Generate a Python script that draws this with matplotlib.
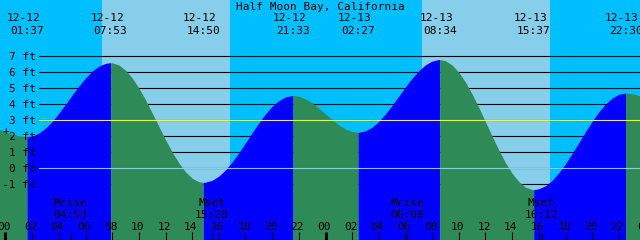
import matplotlib
matplotlib.use('Agg')
import matplotlib.pyplot as plt
import numpy as np

# tide curve every half hour: hours after 12-12 00:00, feet
curve_hours = [-0.5, 0, 0.5, 1, 1.5, 2, 2.5, 3, 3.5, 4, 4.5, 5, 5.5, 6, 6.5, 7,
               7.5, 8, 8.5, 9, 9.5, 10, 10.5, 11, 11.5, 12, 12.5, 13, 13.5, 14,
               14.5, 15, 15.5, 16, 16.5, 17, 17.5, 18, 18.5, 19, 19.5, 20, 20.5,
               21, 21.5, 22, 22.5, 23, 23.5, 24, 24.5, 25, 25.5, 26, 26.5, 27,
               27.5, 28, 28.5, 29, 29.5, 30, 30.5, 31, 31.5, 32, 32.5, 33, 33.5,
               34, 34.5, 35, 35.5, 36, 36.5, 37, 37.5, 38, 38.5, 39, 39.5, 40,
               40.5, 41, 41.5, 42, 42.5, 43, 43.5, 44, 44.5, 45, 45.5, 46, 47,
               47.5, 47.7]
curve_feet = [2.42, 2.27, 2.13, 2.03, 1.99, 2.02, 2.20, 2.51, 2.93, 3.44, 4.00,
              4.58, 5.14, 5.64, 6.07, 6.38, 6.56, 6.59, 6.46, 6.13, 5.65, 5.02,
              4.28, 3.46, 2.62, 1.79, 1.01, 0.34, -0.22, -0.62, -0.84, -0.87,
              -0.75, -0.49, -0.10, 0.40, 0.97, 1.59, 2.23, 2.84, 3.40, 3.87,
              4.23, 4.46, 4.55, 4.50, 4.34, 4.09, 3.76, 3.40, 3.04, 2.71, 2.46,
              2.30, 2.25, 2.34, 2.57, 2.93, 3.40, 3.94, 4.51, 5.09, 5.63, 6.10,
              6.47, 6.70, 6.80, 6.72, 6.45, 6.00, 5.38, 4.63, 3.80, 2.90, 2.00,
              1.14, 0.35, -0.32, -0.83, -1.18, -1.32, -1.28, -1.09, -0.75, -0.28,
              0.29, 0.93, 1.60, 2.29, 2.94, 3.53, 4.02, 4.39, 4.62, 4.66, 4.55,
              4.48]

# highs and lows
event_dates = ['12-12', '12-12', '12-12', '12-12', '12-13', '12-13', '12-13', '12-13']
event_times = ['01:37', '07:53', '14:50', '21:33', '02:27', '08:34', '15:37', '22:30']
event_feet = [1.98, 6.60, -0.88, 4.55, 2.25, 6.80, -1.33, 4.70]

# moon rise / set
moon_dates = ['12-12', '12-12', '12-13', '12-13']
moon_kinds = ['Mrise', 'Mset', 'Mrise', 'Mset']
moon_times = ['04:53', '15:28', '06:08', '16:12']

# daylight
sun_dates = ['12-12', '12-13']
sunrise = ['07:14', '07:14']
sunset = ['16:50', '16:50']

depth_levels = [-1, 0, 1, 2, 3, 4, 5, 6, 7]
hour_labels = ['00', '02', '04', '06', '08', '10', '12', '14', '16', '18', '20', '22']
title = 'Half Moon Bay, California'

PX_H = 320 / 24.0   # pixels per hour
PX_FT = 16.0        # pixels per foot
X0 = -5.5 / PX_H
X1 = (640 - 5.5) / PX_H
Y1 = 168.3 / PX_FT
Y0 = Y1 - 240 / PX_FT
FONT = dict(family='DejaVu Sans Mono', size=8, color='black')


def to_hours(date, hhmm):
    day = 0 if date == '12-12' else 1
    h, m = hhmm.split(':')
    return day * 24 + int(h) + int(m) / 60.0


def px_x(px):
    return (px - 5.5) / PX_H


def px_y(py):
    return Y1 - py / PX_FT


ev_hours = [to_hours(d, t) for d, t in zip(event_dates, event_times)]
hrs = np.array(curve_hours + ev_hours)
ft = np.array(curve_feet + event_feet)
order = np.argsort(hrs)
hrs, ft = hrs[order], ft[order]

fig = plt.figure(figsize=(6.4, 2.4), dpi=100)
ax = fig.add_axes([0, 0, 1, 1])
ax.set_xlim(X0, X1)
ax.set_ylim(Y0, Y1)
ax.axis('off')

# sky: night / day
ax.axvspan(X0, X1, color='#00bfff', lw=0, zorder=0)
for d, r, s in zip(sun_dates, sunrise, sunset):
    ax.axvspan(to_hours(d, r), to_hours(d, s), color='#87ceeb', lw=0, zorder=0)

for lvl in depth_levels:
    ax.axhline(lvl, xmin=39 / 640, color='black', lw=0.8, zorder=1)

# water: blue while flooding, green while ebbing
cuts = [hrs[0]] + ev_hours + [hrs[-1]]
for a, b in zip(cuts[:-1], cuts[1:]):
    m = (hrs >= a) & (hrs <= b)
    col = '#0000ff' if ft[m][-1] > ft[m][0] else '#2e8b57'
    ax.fill_between(hrs[m], ft[m], Y0 - 1, color=col, lw=0, zorder=2)

ax.axhline(3, xmin=39 / 640, color='#ffff00', lw=0.8, zorder=3)
ax.axhline(0, xmin=39 / 640, color='#87ceeb', lw=0.8, zorder=3)

for lvl in depth_levels:
    ax.text(px_x(36), lvl - 4 / PX_FT, f'{lvl} ft', ha='right', va='baseline',
            zorder=5, **FONT)

ax.text(px_x(320.5), px_y(9.5), title, ha='center', va='baseline', zorder=5, **FONT)
for t, d, s in zip(ev_hours, event_dates, event_times):
    ax.text(t - 3.5 / PX_H, px_y(21), d, ha='center', va='baseline', zorder=5, **FONT)
    ax.text(t, px_y(33.5), s, ha='center', va='baseline', zorder=5, **FONT)

for d, k, s in zip(moon_dates, moon_kinds, moon_times):
    t = to_hours(d, s)
    ax.text(t, px_y(205.5), k, ha='center', va='baseline', zorder=5, **FONT)
    ax.text(t, px_y(217.5), s, ha='center', va='baseline', zorder=5, **FONT)
    ax.vlines(t, px_y(240), px_y(232), color='black', lw=0.8, zorder=4)

for day in range(3):
    for lab in hour_labels:
        t = day * 24 + int(lab)
        ax.text(t - 1.5 / PX_H, px_y(230), lab, ha='center', va='baseline',
                zorder=5, **FONT)
        ax.vlines(t, px_y(240), px_y(232), color='black',
                  lw=2.2 if lab == '00' else 0.8, zorder=4)

ax.text(px_x(5.5), px_y(130.5), '+', ha='center', va='center', zorder=5, **FONT)

fig.savefig('out.png', dpi=100)
